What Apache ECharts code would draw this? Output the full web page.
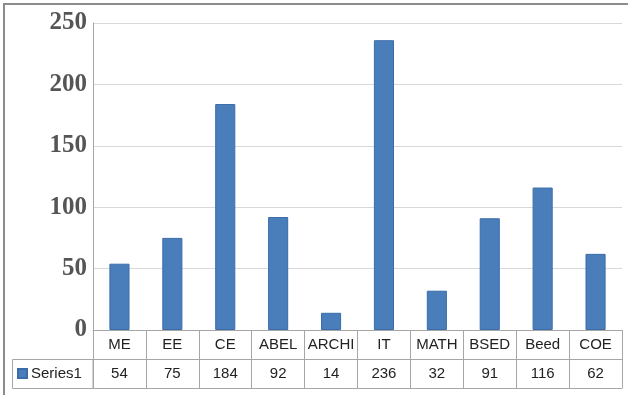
<!DOCTYPE html>
<html>
<head>
<meta charset="utf-8">
<script src="https://cdn.jsdelivr.net/npm/echarts@6/dist/echarts.min.js"></script>
<style>
  html, body { margin: 0; padding: 0; background: #fff; overflow: hidden; width: 628px; height: 395px; }
  #chart { position: absolute; left: 0; top: 0; width: 628px; height: 395px; }
  #frame { position: absolute; left: 3px; top: 3px; width: 625px; height: 392px; box-sizing: border-box;
           border-left: 2px solid #8c8c8c; border-top: 2px solid #8c8c8c; pointer-events: none; }
</style>
</head>
<body>
<div id="chart"></div>
<div id="frame"></div>
<script>
// Enrolment per department
const categories = ['ME', 'EE', 'CE', 'ABEL', 'ARCHI', 'IT', 'MATH', 'BSED', 'Beed', 'COE'];
const series1 = [54, 75, 184, 92, 14, 236, 32, 91, 116, 62];
const seriesName = 'Series1';
const yTicks = { min: 0, max: 250, interval: 50 };

const tableLine = '#a6a6a6';
const barBlue = '#4a7ebb';
const cellFont = { fontFamily: 'Liberation Sans', fontSize: 15, color: '#222' };

const chart = echarts.init(document.getElementById('chart'), null, { renderer: 'canvas' });

chart.setOption({
  animation: false,
  backgroundColor: '#fff',
  grid: { left: 93, right: 6, top: 23, bottom: 65, containLabel: false },
  legend: {
    data: [seriesName],
    left: 17, top: 366,
    icon: 'rect', itemWidth: 9, itemHeight: 9, itemGap: 4,
    padding: 0,
    textStyle: Object.assign({ padding: [0, 0, 0, -1] }, cellFont)
  },
  graphic: [
    // leading cell of the data row, holding the series key
    { type: 'rect', shape: { x: 12.5, y: 359.5, width: 80.5, height: 29 },
      style: { fill: 'none', stroke: tableLine, lineWidth: 1 }, silent: true }
  ],
  xAxis: [
    {
      type: 'category', data: categories, position: 'bottom',
      axisLine: { show: true, lineStyle: { color: tableLine, width: 1 } },
      axisTick: { show: true, interval: 0, length: 58, lineStyle: { color: tableLine } },
      axisLabel: Object.assign({ margin: 7, interval: 0 }, cellFont),
      splitLine: { show: false }
    },
    {
      type: 'category', data: series1.map(String), position: 'bottom', offset: 29,
      axisLine: { show: true, lineStyle: { color: tableLine, width: 1 } },
      axisTick: { show: false },
      axisLabel: Object.assign({ margin: 7, interval: 0 }, cellFont)
    },
    {
      type: 'category', data: categories, position: 'bottom', offset: 58,
      axisLine: { show: true, lineStyle: { color: tableLine, width: 1 } },
      axisTick: { show: false },
      axisLabel: { show: false }
    }
  ],
  yAxis: {
    type: 'value', min: yTicks.min, max: yTicks.max, interval: yTicks.interval,
    axisLine: { show: true, lineStyle: { color: tableLine, width: 1 } },
    axisTick: { show: false },
    axisLabel: { margin: 6, fontFamily: 'Liberation Serif', fontWeight: 'bold', fontSize: 25, color: '#555555' },
    splitLine: { show: true, lineStyle: { color: '#d9d9d9', width: 1 } }
  },
  series: [{
    name: seriesName, type: 'bar', xAxisIndex: 0, data: series1,
    barWidth: '38%',
    itemStyle: { color: barBlue, borderColor: '#3a6ca8', borderWidth: 1 }
  }]
});
</script>
</body>
</html>
